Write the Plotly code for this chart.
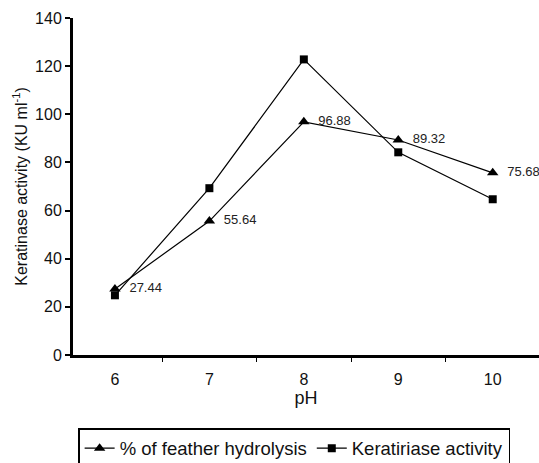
import plotly.graph_objects as go

ph = ["6", "7", "8", "9", "10"]
hydrolysis = [27.44, 55.64, 96.88, 89.32, 75.68]
keratinase = [24.8, 69.3, 122.8, 84.2, 64.7]
hydro_labels = ["27.44", "55.64", "96.88", "89.32", "75.68"]

FONT = "Liberation Sans, Arial"

fig = go.Figure()
fig.add_trace(go.Scatter(
    x=ph, y=hydrolysis, mode="lines+markers+text",
    name="% of feather hydrolysis",
    line=dict(color="black", width=1.2),
    marker=dict(symbol="triangle-up", size=10, color="black"),
    text=hydro_labels, texttemplate="  %{text}", textposition="middle right",
    textfont=dict(family=FONT, size=13, color="#222"),
))
fig.add_trace(go.Scatter(
    x=ph, y=keratinase, mode="lines+markers",
    name="Keratiriase activity",
    line=dict(color="black", width=1.2),
    marker=dict(symbol="square", size=8, color="black"),
))

fig.update_layout(
    width=539, height=463,
    margin=dict(l=73, r=0, t=18, b=108, autoexpand=False),
    paper_bgcolor="white", plot_bgcolor="white",
    font=dict(family=FONT, size=16, color="#111"),
    showlegend=True,
    legend=dict(
        orientation="h", x=0.011, y=-0.217, xanchor="left", yanchor="top",
        bordercolor="black", borderwidth=1.5,
        font=dict(family=FONT, size=18.5, color="#111"),
        traceorder="normal",
    ),
    xaxis=dict(
        type="category", range=[-0.444, 4.49],
        showline=True, linecolor="black", linewidth=3,
        ticks="outside", ticklen=4, tickwidth=1, tickcolor="black",
        tickson="boundaries", ticklabelstandoff=8,
        showgrid=False, zeroline=False,
        title=dict(text="pH", standoff=0, font=dict(family=FONT, size=18)),
        tickfont=dict(family=FONT, size=16),
    ),
    yaxis=dict(
        range=[0, 140], dtick=20,
        showline=True, linecolor="black", linewidth=3,
        ticks="outside", ticklen=5, tickwidth=2, tickcolor="black",
        showgrid=False, zeroline=False,
        title=dict(text="Keratinase activity (KU ml<sup>-1</sup>)", standoff=4,
                   font=dict(family=FONT, size=16)),
        tickfont=dict(family=FONT, size=16),
    ),
)

fig.write_html("out.html")
